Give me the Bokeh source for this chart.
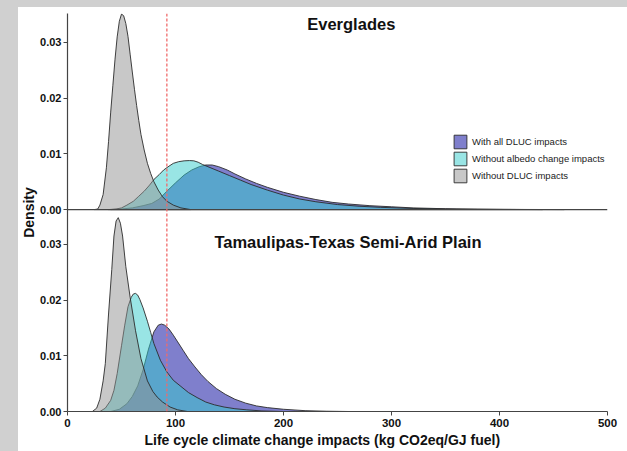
from bokeh.plotting import figure
from bokeh.models import (Range1d, Span, Label, Legend, LegendItem, FixedTicker,
                          CustomJSTickFormatter, Div, Title)
from bokeh.layouts import row, column
from bokeh.embed import file_html
from bokeh.resources import INLINE

# ---------------- data ----------------
series_names = ["With all DLUC impacts", "Without albedo change impacts", "Without DLUC impacts"]
panel_titles = ["Everglades", "Tamaulipas-Texas Semi-Arid Plain"]
x_title = "Life cycle climate change impacts (kg CO2eq/GJ fuel)"
y_title = "Density"
threshold = 92
x_ticks = [0, 100, 200, 300, 400, 500]
y_ticks = [0.0, 0.01, 0.02, 0.03]

# Everglades
eg_all_x = [40, 50, 60, 70, 78, 85, 92, 100, 108, 115, 122, 128, 134, 140, 148, 155, 165, 175, 185, 200,
            215, 230, 245, 260, 280, 300, 320, 350, 380, 420, 460]
eg_all_y = [0, 0.0001, 0.0003, 0.0007, 0.0011, 0.0019, 0.0033, 0.0048, 0.0062, 0.0071, 0.0077, 0.0080,
            0.0080, 0.0077, 0.0071, 0.0064, 0.0055, 0.0047, 0.0040, 0.0031, 0.0024, 0.0018, 0.0013, 0.0010,
            0.0007, 0.0005, 0.0003, 0.00015, 0.00007, 0.00002, 0]
eg_noalb_x = [38, 45, 50, 55, 61, 66, 71, 76, 80, 85, 89, 94, 98, 103, 108, 113, 117, 121, 125, 130, 140,
              150, 160, 170, 185, 200, 215, 230, 250, 270, 290, 320, 360, 400, 440]
eg_noalb_y = [0, 0.0001, 0.0003, 0.0008, 0.0015, 0.0024, 0.0033, 0.0044, 0.0054, 0.0063, 0.0071, 0.0078,
              0.0083, 0.0086, 0.00875, 0.0088, 0.00875, 0.0085, 0.0081, 0.0077, 0.0069, 0.0061, 0.0053,
              0.0045, 0.0035, 0.0026, 0.0019, 0.0014, 0.0009, 0.0006, 0.0004, 0.0002, 0.00008, 0.00003, 0]
eg_nodluc_x = [25, 28, 30, 33, 36, 38, 40, 42, 44, 46, 48, 50, 52, 54, 56, 58, 60, 62, 64, 66, 68, 71, 74,
               77, 80, 84, 88, 92, 98, 105, 114]
eg_nodluc_y = [0, 0.0001, 0.0008, 0.0027, 0.0075, 0.0122, 0.0175, 0.0223, 0.027, 0.031, 0.0338, 0.0351,
               0.0348, 0.0334, 0.0311, 0.0279, 0.0247, 0.0216, 0.0187, 0.016, 0.0135, 0.0107, 0.0083,
               0.0065, 0.005, 0.0035, 0.0023, 0.0015, 0.0008, 0.0003, 0]

# Tamaulipas-Texas Semi-Arid Plain
tt_all_x = [40, 48, 55, 60, 65, 70, 75, 80, 84, 87, 90, 94, 98, 102, 107, 112, 118, 124, 130, 138, 146, 155,
            165, 175, 185, 200, 220, 240, 260]
tt_all_y = [0, 0.0004, 0.0014, 0.0027, 0.0046, 0.0075, 0.0112, 0.0143, 0.0155, 0.0157, 0.0155, 0.0148,
            0.0137, 0.0125, 0.0110, 0.0095, 0.0080, 0.0066, 0.0054, 0.0041, 0.0031, 0.0022, 0.0015, 0.0010,
            0.0007, 0.0004, 0.00015, 0.00005, 0]
tt_noalb_x = [30, 35, 40, 43, 46, 50, 53, 56, 59, 61, 63, 65, 67, 70, 74, 77, 80, 86, 92, 98, 105, 112, 120,
              128, 136, 145, 155, 166, 180, 200]
tt_noalb_y = [0, 0.0006, 0.002, 0.0038, 0.0068, 0.0118, 0.0155, 0.0188, 0.0205, 0.0211, 0.0212, 0.0209,
              0.0201, 0.0186, 0.0162, 0.0142, 0.0122, 0.0092, 0.0071, 0.0056, 0.0045, 0.0034, 0.0025, 0.0017,
              0.0012, 0.0008, 0.0005, 0.0003, 0.0001, 0]
tt_nodluc_x = [23, 27, 30, 33, 35, 38, 41, 43, 45, 47, 49, 51, 54, 58, 63, 68, 74, 79, 83, 88, 95, 102, 111]
tt_nodluc_y = [0, 0.0006, 0.0022, 0.0055, 0.0086, 0.0175, 0.0255, 0.0315, 0.0342, 0.0348, 0.0338, 0.0315,
               0.026, 0.0205, 0.0145, 0.0095, 0.0055, 0.0036, 0.0026, 0.0017, 0.0008, 0.0003, 0]

# ---------------- styling ----------------
fills = ["#000099", "#33cccc", "#919191"]
FONT = "Liberation Sans"
FRAME_GRAY = "#d0d0d0"
BOTTOM_MAX = 0.035     # bottom panel y extent
GAP = 0.00125          # space between panels (in bottom-panel units)
TOP_MAX = 0.0352       # top panel y extent
OFFSET = BOTTOM_MAX + GAP

p = figure(width=609, height=441, x_range=Range1d(0, 500),
           y_range=Range1d(0, OFFSET + TOP_MAX),
           output_backend="svg", toolbar_location=None,
           min_border_left=49, min_border_right=20, min_border_top=6, min_border_bottom=35)
p.extra_y_ranges = {"top": Range1d(-OFFSET, TOP_MAX)}
p.grid.visible = False
p.outline_line_color = None
p.background_fill_color = "white"
p.border_fill_color = "white"

top_sets = [(eg_all_x, eg_all_y), (eg_noalb_x, eg_noalb_y), (eg_nodluc_x, eg_nodluc_y)]
bot_sets = [(tt_all_x, tt_all_y), (tt_noalb_x, tt_noalb_y), (tt_nodluc_x, tt_nodluc_y)]

legend_items = []
for (xs, ys), col, name in zip(top_sets, fills, series_names):
    r = p.patch(xs, ys, fill_color=col, fill_alpha=0.5, line_color="#2b2b2b", line_width=0.9,
                y_range_name="top")
    legend_items.append(LegendItem(label=name, renderers=[r]))
for (xs, ys), col in zip(bot_sets, fills):
    p.patch(xs, ys, fill_color=col, fill_alpha=0.5, line_color="#2b2b2b", line_width=0.9)

# top panel x-axis line
p.add_layout(Span(location=0, dimension="width", y_range_name="top",
                  line_color="#444444", line_width=1.2))
# threshold line
p.add_layout(Span(location=threshold, dimension="height", line_color="#f06a6a",
                  line_dash="3 2", line_width=1.3))

# axes
xa = p.xaxis[0]
xa.ticker = FixedTicker(ticks=x_ticks)
ya = p.yaxis[0]
ya.ticker = FixedTicker(ticks=y_ticks + [t + OFFSET for t in y_ticks])
ya.formatter = CustomJSTickFormatter(args=dict(off=OFFSET),
                                     code="const v = tick > off - 1e-9 ? tick - off : tick; return v.toFixed(2);")
for ax in (xa, ya):
    ax.axis_line_color = "#444444"
    ax.axis_line_width = 1.2
    ax.major_tick_line_color = "#444444"
    ax.major_tick_in = 0
    ax.major_tick_out = 4
    ax.minor_tick_line_color = None
    ax.major_label_text_font = FONT
    ax.major_label_text_font_style = "bold"
    ax.major_label_text_color = "#111111"
ya.major_label_text_font_size = "11px"
xa.major_label_text_font_size = "11.5px"
ya.major_label_standoff = 2
xa.major_label_standoff = 3
ya.axis_label = y_title
ya.axis_label_text_font = FONT
ya.axis_label_text_font_style = "bold"
ya.axis_label_text_font_size = "14px"
ya.axis_label_text_color = "#111111"
ya.axis_label_standoff = 0

# x-axis title (placed below the axis, shifted like the original)
p.add_layout(Title(text=x_title, align="left", offset=77, standoff=1,
                   text_font=FONT, text_font_style="bold", text_font_size="14px",
                   text_color="#111111"), "below")

# panel titles
p.add_layout(Label(x=222, y=0.0333, y_range_name="top", text=panel_titles[0],
                   text_font=FONT, text_font_style="bold", text_font_size="16.5px",
                   text_color="#111111", text_align="left", text_baseline="middle"))
p.add_layout(Label(x=136, y=0.0304, text=panel_titles[1],
                   text_font=FONT, text_font_style="bold", text_font_size="16.5px",
                   text_color="#111111", text_align="left", text_baseline="middle"))

legend = Legend(items=legend_items, location=(385, 227), orientation="vertical",
                glyph_width=16, glyph_height=17, label_height=17, label_standoff=4,
                spacing=0, padding=0, margin=0, border_line_color=None,
                background_fill_alpha=0, label_text_font=FONT, label_text_font_size="9.5px",
                label_text_color="#222222")
p.add_layout(legend)

top_strip = Div(text="", width=627, height=7, margin=0, styles={"background-color": FRAME_GRAY})
left_strip = Div(text="", width=18, height=444, margin=0, styles={"background-color": FRAME_GRAY})
layout = column(top_strip, row(left_strip, p))
open("out.html", "w").write(file_html(layout, INLINE, title="Life cycle climate change impacts"))
